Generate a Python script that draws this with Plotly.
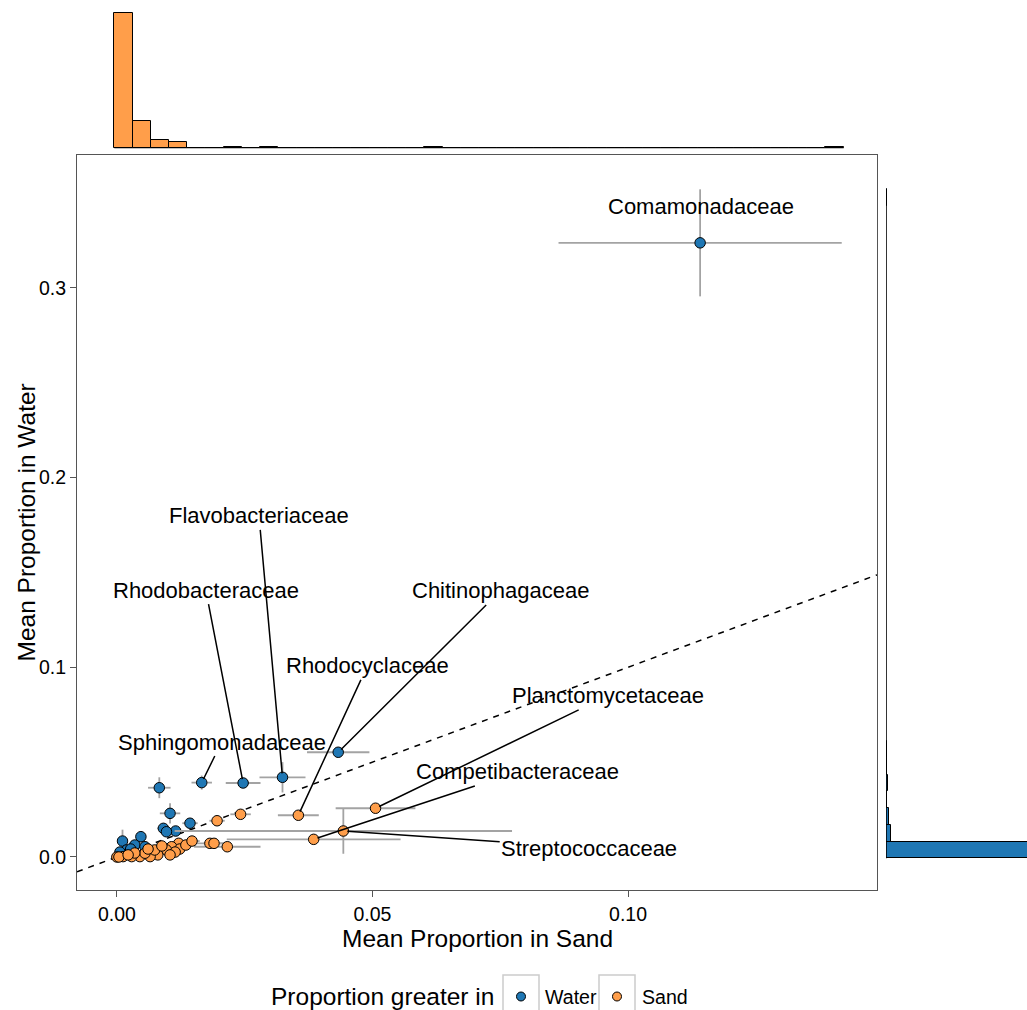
import plotly.graph_objects as go

# ---------------- data ----------------
water_names = ["Comamonadaceae", "Chitinophagaceae", "Flavobacteriaceae", "Rhodobacteraceae",
               "Sphingomonadaceae", "", "", "", "", "", "", "", "", "", "", "", "", ""]
water_x = [0.1141, 0.0433, 0.0324, 0.0247, 0.0166, 0.0083, 0.0104, 0.0143, 0.0091, 0.0115,
           0.0097, 0.0011, 0.0047, 0.0035, 0.0055, 0.0019, 0.0006, 0.0027]
water_y = [0.3237, 0.0552, 0.0420, 0.0390, 0.0392, 0.0365, 0.0230, 0.0178, 0.0151, 0.0137,
           0.0133, 0.0084, 0.0107, 0.0063, 0.0054, 0.0037, 0.0026, 0.0042]
water_xe = [0.0277, 0.0061, 0.0045, 0.0034, 0.0020, 0.0022, 0.0020, 0.0015, 0.0012, 0.0015,
            0.0010, 0.0008, 0.0010, 0.0008, 0.0008, 0.0005, 0.0003, 0.0005]
water_ye = [0.0282, 0.0015, 0.0080, 0.0015, 0.0037, 0.0055, 0.0053, 0.0015, 0.0020, 0.0015,
            0.0015, 0.0060, 0.0030, 0.0015, 0.0015, 0.0010, 0.0008, 0.0010]

sand_names = ["Planctomycetaceae", "Competibacteraceae", "Streptococcaceae", "Rhodocyclaceae"] + [""] * 26
sand_x = [0.0506, 0.0385, 0.0443, 0.0355, 0.0242, 0.0196, 0.0182, 0.0190, 0.0216, 0.0121,
          0.0107, 0.0097, 0.0080, 0.0065, 0.0045, 0.0029, 0.0012, 0.0000, 0.0004, 0.0055,
          0.0074, 0.0088, 0.0123, 0.0135, 0.0147, 0.0114, 0.0035, 0.0022, 0.0061, 0.0104]
sand_y = [0.0257, 0.0093, 0.0137, 0.0220, 0.0225, 0.0191, 0.0072, 0.0072, 0.0054, 0.0072,
          0.0054, 0.0037, 0.0011, 0.0002, 0.0002, 0.0002, 0.0002, 0.0000, 0.0000, 0.0020,
          0.0037, 0.0058, 0.0042, 0.0063, 0.0084, 0.0026, 0.0021, 0.0011, 0.0042, 0.0011]
sand_xe = [0.0078, 0.0170, 0.0330, 0.0040, 0.0020, 0.0015, 0.0040, 0.0020, 0.0065, 0.0015,
           0.0012, 0.0010, 0.0010, 0.0008, 0.0006, 0.0005, 0.0003, 0.0001, 0.0002, 0.0008,
           0.0010, 0.0012, 0.0015, 0.0020, 0.0015, 0.0012, 0.0006, 0.0004, 0.0008, 0.0010]
sand_ye = [0.0020, 0.0010, 0.0120, 0.0015, 0.0010, 0.0010, 0.0008, 0.0008, 0.0008, 0.0010,
           0.0008, 0.0006, 0.0004, 0.0003, 0.0002, 0.0002, 0.0001, 0.0001, 0.0001, 0.0004,
           0.0005, 0.0006, 0.0006, 0.0008, 0.0008, 0.0005, 0.0003, 0.0002, 0.0005, 0.0004]

# marginal histograms (40 bins each)
sand_hist_start = -0.0005
sand_hist_width = 0.003567
sand_hist_counts = [135, 27, 8, 6, 0.5, 0.5, 1, 0.5, 1, 0, 0, 0.5, 0.5, 0.5, 0.5, 0.5, 0, 1, 0, 0,
                    0, 0, 0, 0, 0, 0, 0, 0, 0, 0, 0, 0, 0, 0, 0, 0, 0, 0, 0, 1]
water_hist_start = -0.0007
water_hist_width = 0.00882
water_hist_counts = [176, 5, 3, 1, 1.5, 1, 1, 0, 0, 0, 0, 0, 0, 0, 0, 0, 0, 0, 0, 0,
                     0, 0, 0, 0, 0, 0, 0, 0, 0, 0, 0, 0, 0, 0, 0, 0, 0, 0, 0, 1]

x_ticks = [0.00, 0.05, 0.10]
x_ticktext = ["0.00", "0.05", "0.10"]
y_ticks = [0.0, 0.1, 0.2, 0.3]
y_ticktext = ["0.0", "0.1", "0.2", "0.3"]

# ---------------- layout constants ----------------
W, H = 1027, 1010
FONT = "Liberation Sans, Arial, sans-serif"
BLUE = "#1F77B4"
ORANGE = "#FF9E4A"
ERR = "#A3A3A3"
x_range = [-0.0078, 0.1487]
y_range = [-0.0174, 0.3700]
main_x_dom = [77 / W, 877 / W]
main_y_dom = [(H - 890) / H, (H - 155) / H]

# label text centres (data coords)
label_pos = {
    "Comamonadaceae": (0.11425, 0.3428),
    "Flavobacteriaceae": (0.0278, 0.1798),
    "Rhodobacteraceae": (0.0174, 0.1407),
    "Chitinophagaceae": (0.0750, 0.1402),
    "Rhodocyclaceae": (0.0490, 0.1007),
    "Planctomycetaceae": (0.0960, 0.0849),
    "Sphingomonadaceae": (0.0205, 0.0606),
    "Competibacteraceae": (0.0783, 0.0448),
    "Streptococcaceae": (0.0924, 0.0047),
}

fig = go.Figure()

# top marginal histogram (sand)
sc = [sand_hist_start + sand_hist_width * (i + 0.5) for i in range(len(sand_hist_counts))]
fig.add_trace(go.Bar(x=sc, y=sand_hist_counts, width=sand_hist_width, xaxis="x2", yaxis="y2",
                     marker=dict(color=ORANGE, line=dict(color="black", width=1)),
                     showlegend=False, hoverinfo="skip"))
fig.add_trace(go.Scatter(x=[sand_hist_start, sand_hist_start + sand_hist_width * len(sand_hist_counts)],
                         y=[0, 0], mode="lines", xaxis="x2", yaxis="y2",
                         line=dict(color="black", width=1.6), showlegend=False, hoverinfo="skip"))

# right marginal histogram (water)
wc = [water_hist_start + water_hist_width * (i + 0.5) for i in range(len(water_hist_counts))]
fig.add_trace(go.Bar(y=wc, x=water_hist_counts, width=water_hist_width, orientation="h",
                     xaxis="x3", yaxis="y3",
                     marker=dict(color=BLUE, line=dict(color="black", width=1)),
                     showlegend=False, hoverinfo="skip"))
fig.add_trace(go.Scatter(y=[water_hist_start, water_hist_start + water_hist_width * len(water_hist_counts)],
                         x=[0, 0], mode="lines", xaxis="x3", yaxis="y3",
                         line=dict(color="black", width=1.6), showlegend=False, hoverinfo="skip"))

# identity line
fig.add_trace(go.Scatter(x=x_range, y=x_range, mode="lines",
                         line=dict(color="black", width=1.5, dash="6px,6px"),
                         showlegend=False, hoverinfo="skip"))

# points
def add_points(xs, ys, xe, ye, names, color, label):
    fig.add_trace(go.Scatter(
        x=xs, y=ys, mode="markers", name=label, text=names,
        marker=dict(size=10.5, color=color, line=dict(color="black", width=1)),
        error_x=dict(type="data", array=xe, color=ERR, thickness=1.8, width=0),
        error_y=dict(type="data", array=ye, color=ERR, thickness=1.8, width=0),
        showlegend=False))

add_points(water_x, water_y, water_xe, water_ye, water_names, BLUE, "Water")
add_points(sand_x, sand_y, sand_xe, sand_ye, sand_names, ORANGE, "Sand")

# labels
annotations = []
for names, xs, ys in [(water_names, water_x, water_y), (sand_names, sand_x, sand_y)]:
    for n, px, py in zip(names, xs, ys):
        if n in label_pos:
            lx, ly = label_pos[n]
            if n == "Comamonadaceae":
                annotations.append(dict(x=lx, y=ly, xref="x", yref="y", text=n, showarrow=False,
                                        xanchor="center", yanchor="middle",
                                        font=dict(family=FONT, size=22, color="black")))
            else:
                annotations.append(dict(x=px, y=py, xref="x", yref="y", ax=lx, ay=ly,
                                        axref="x", ayref="y", text=n, showarrow=True,
                                        arrowhead=0, arrowwidth=1.5, arrowcolor="black",
                                        standoff=4,
                                        font=dict(family=FONT, size=22, color="black")))

def paper_text(xpx, ypx, text, size, xanchor="center", angle=0):
    return dict(x=xpx / W, y=(H - ypx) / H, xref="paper", yref="paper", text=text,
                showarrow=False, xanchor=xanchor, yanchor="middle", textangle=angle,
                font=dict(family=FONT, size=size, color="black"))

# axis titles
annotations.append(paper_text((77 + 877) / 2, 938, "Mean Proportion in Sand", 24.5))
annotations.append(paper_text(26, (155 + 890) / 2, "Mean Proportion in Water", 24.5, angle=-90))

# legend (drawn manually to mimic key boxes)
leg_y = 996.5
annotations.append(paper_text(382, leg_y, "Proportion greater in", 24.5))
annotations.append(paper_text(543, leg_y, "Water", 19.6, xanchor="left"))
annotations.append(paper_text(640, leg_y, "Sand", 19.6, xanchor="left"))

shapes = []
for cx, col in [(521, BLUE), (617, ORANGE)]:
    shapes.append(dict(type="rect", xref="paper", yref="paper",
                       x0=(cx - 18) / W, x1=(cx + 18) / W, y0=(H - 1012) / H, y1=(H - 975) / H,
                       line=dict(color="#CCCCCC", width=1.5), fillcolor="white", layer="below"))
    shapes.append(dict(type="circle", xref="paper", yref="paper",
                       x0=(cx - 4.5) / W, x1=(cx + 4.5) / W, y0=(H - leg_y - 4.5) / H, y1=(H - leg_y + 4.5) / H,
                       line=dict(color="black", width=1), fillcolor=col))

axis_common = dict(showgrid=False, zeroline=False, showline=True, mirror=True,
                   linecolor="#555555", linewidth=1.2, ticks="outside", ticklen=6,
                   tickcolor="#555555", tickwidth=1.2,
                   tickfont=dict(family=FONT, size=19.5, color="black"))

fig.update_layout(
    width=W, height=H, margin=dict(l=0, r=0, t=0, b=0),
    paper_bgcolor="white", plot_bgcolor="white", bargap=0,
    xaxis=dict(domain=main_x_dom, range=x_range, tickvals=x_ticks, ticktext=x_ticktext,
               anchor="y", **axis_common),
    yaxis=dict(domain=main_y_dom, range=y_range, tickvals=y_ticks, ticktext=y_ticktext,
               anchor="x", **axis_common),
    xaxis2=dict(domain=main_x_dom, matches="x", anchor="y2", visible=False),
    yaxis2=dict(domain=[(H - 148.3) / H, 1.0], range=[0, 148.3], anchor="x2", visible=False),
    xaxis3=dict(domain=[886 / W, 1.0], range=[0, 141], anchor="y3", visible=False),
    yaxis3=dict(domain=main_y_dom, matches="y", anchor="x3", visible=False),
    annotations=annotations, shapes=shapes, showlegend=False,
    font=dict(family=FONT),
)

fig.write_html("out.html", config={"displayModeBar": False})

# remove the browser's default page margin so the figure sits at the window origin
with open("out.html", "r", encoding="utf-8") as f:
    html = f.read()
html = html.replace("<head>", "<head><style>html,body{margin:0;padding:0;overflow:hidden;}</style>", 1)
with open("out.html", "w", encoding="utf-8") as f:
    f.write(html)
